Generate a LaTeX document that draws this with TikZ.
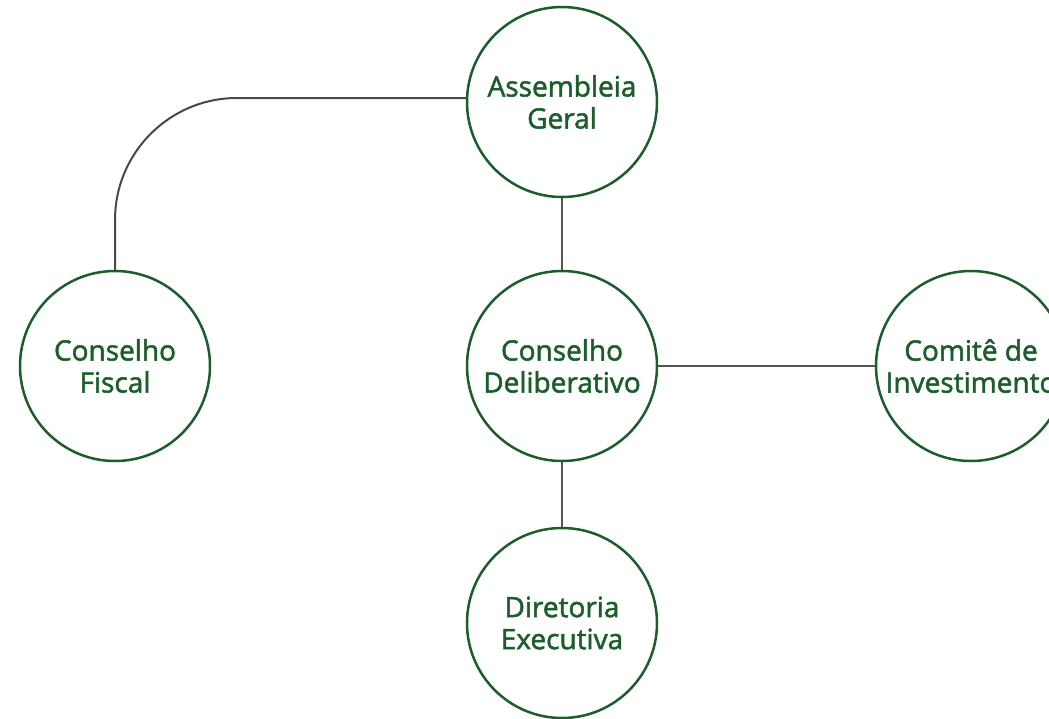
\documentclass[tikz,border=0pt]{standalone}
\usepackage{fontspec}
\setmainfont{Open Sans}
\newfontfamily\fonteorgao{Open Sans}[FakeBold=1.8]
\definecolor{verde}{HTML}{1B5E2B}
\definecolor{linha}{HTML}{555555}

\begin{document}
\begin{tikzpicture}[x=1pt,y=-1pt,
    orgao/.style = {draw=verde, circle, line width=2.5pt, minimum size=190pt, inner sep=0pt,
        text=verde, align=center, font=\fonteorgao\fontsize{28}{32}\selectfont},
    liga/.style = {draw=linha, line width=1.2pt}]
        \useasboundingbox (0,0) rectangle (1049,718);
        \node[orgao] (assembleia) at (562,102) {Assembleia\\Geral};
        \node[orgao] (fiscal) at (115,366) {Conselho\\Fiscal};
        \node[orgao] (deliberativo) at (562,366) {Conselho\\Deliberativo};
        \node[orgao] (comite) at (971,366) {Comitê de\\Investimento};
        \node[orgao] (diretoria) at (562,623) {Diretoria\\Executiva};
        \draw[liga, draw=linha!85!black, line width=2pt, rounded corners=122pt] (fiscal.north) |- ([yshift=4pt]assembleia.west);
        \draw[liga] (assembleia) -- (deliberativo);
        \draw[liga] (deliberativo) -- (comite);
        \draw[liga] (deliberativo) -- (diretoria);
\end{tikzpicture}
\end{document}
